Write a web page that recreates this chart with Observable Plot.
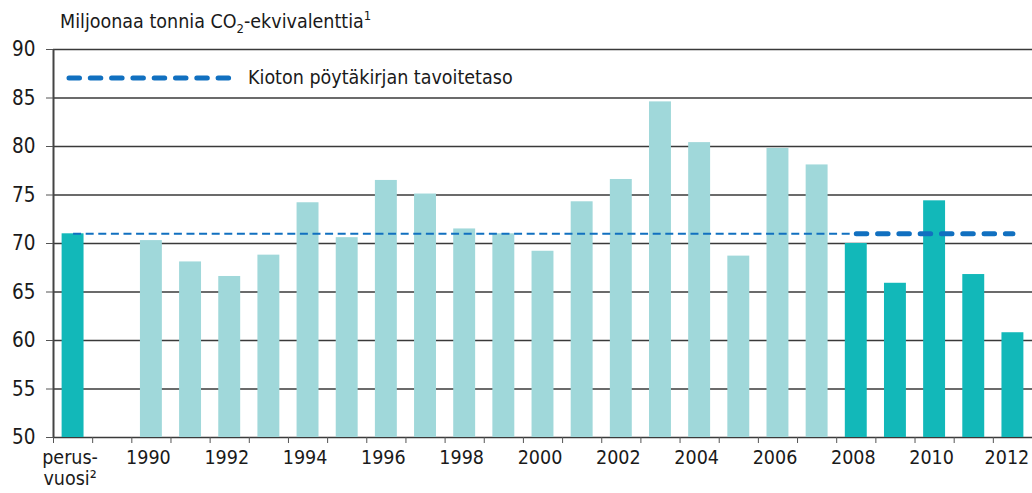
<!DOCTYPE html>
<html>
<head>
<meta charset="utf-8">
<script src="https://cdn.jsdelivr.net/npm/d3@7"></script>
<script src="https://cdn.jsdelivr.net/npm/@observablehq/plot@0.6"></script>
<style>
  html, body { margin: 0; padding: 0; background: #fff; }
  #wrap { position: relative; width: 1032px; height: 493px; overflow: hidden;
          font-family: "Liberation Sans Narrow", "DejaVu Sans Condensed", "Open Sans", sans-serif; color: #1a1a1a; }
  #title { position: absolute; left: 60px; top: 9px; font-size: 19.5px; line-height: 26px; white-space: nowrap; }
  #title sub { font-size: 13px; vertical-align: -5px; line-height: 0; }
  #title sup { font-size: 13px; vertical-align: 8px; line-height: 0; }
  #chart { position: absolute; left: 0; top: 40px; }
  #legend { position: absolute; left: 66px; top: 66px; display: flex; align-items: center; font-size: 19.5px; white-space: nowrap; }
  #legend svg { margin-right: 16px; }
</style>
</head>
<body>
<div id="wrap">
  <div id="title">Miljoonaa tonnia CO<sub>2</sub>-ekvivalenttia<sup>1</sup></div>
  <div id="chart"></div>
  <div id="legend">
    <svg width="166" height="10"><line x1="3" x2="163" y1="5" y2="5" stroke="#1170c0" stroke-width="5" stroke-linecap="round" stroke-dasharray="10.5,10.8"/></svg>
    <span>Kioton pöytäkirjan tavoitetaso</span>
  </div>
</div>
<script>
const categories = ["perusvuosi", "gap", "1990", "1991", "1992", "1993", "1994", "1995", "1996", "1997", "1998", "1999", "2000", "2001", "2002", "2003", "2004", "2005", "2006", "2007", "2008", "2009", "2010", "2011", "2012"];
const emissions = [71.0, null, 70.3, 68.1, 66.6, 68.8, 74.2, 70.6, 76.5, 75.1, 71.5, 71.0, 69.2, 74.3, 76.6, 84.6, 80.4, 68.7, 79.8, 78.1, 70.0, 65.9, 74.4, 66.8, 60.8];
const kyotoTarget = 71.0;
const yTicks = [50, 55, 60, 65, 70, 75, 80, 85, 90];
const xLabelCats = ["perusvuosi", "1990", "1992", "1994", "1996", "1998", "2000", "2002", "2004", "2006", "2008", "2010"];
const xLabelLast = ["2012"];

const data = categories.map((c, i) => ({cat: c, value: emissions[i]})).filter(d => d.value != null);
const isDark = d => d.cat === "perusvuosi" || +d.cat >= 2008;

const W = 1032, H = 453, ML = 53, MR = 0, MT = 9, MB = 56;
const step = (W - ML - MR) / categories.length;
const FONT = '"Liberation Sans Narrow", "DejaVu Sans Condensed", "Open Sans", sans-serif';
const FS = 19.5;
const labelFormat = d => d === "perusvuosi" ? "perus-\nvuosi²" : d + "\n ";

const chart = Plot.plot({
  width: W, height: H,
  marginTop: MT, marginLeft: ML, marginRight: MR, marginBottom: MB,
  style: {fontFamily: FONT, fontSize: FS + "px", color: "#1a1a1a", background: "white", overflow: "visible"},
  x: {domain: categories, paddingInner: 0.44, paddingOuter: 0.22, round: false, label: null, axis: null},
  y: {domain: [50, 90], label: null, axis: null},
  marks: [
    Plot.ruleY(yTicks, {stroke: "#3a3a3a", strokeWidth: 1.4}),
    Plot.barY(data, {x: "cat", y1: 50, y2: "value", fill: d => isDark(d) ? "#12b8b9" : "#a0d8da"}),
    Plot.link([{from: "perusvuosi", to: "2008", v: kyotoTarget}], {x1: "from", x2: "to", y1: "v", y2: "v", stroke: "#1170c0", strokeWidth: 2, strokeDasharray: "8,4.6"}),
    Plot.link([{from: "2008", to: "2012", v: kyotoTarget}], {x1: "from", x2: "to", y1: "v", y2: "v", stroke: "#1170c0", strokeWidth: 5, strokeLinecap: "round", strokeDasharray: "10.5,10.8"}),
    Plot.ruleX(["perusvuosi"], {y1: 50, y2: 90, dx: -step / 2, stroke: "#444", strokeWidth: 2}),
    Plot.axisY(yTicks, {tickSize: 7, tickPadding: 11, stroke: "#555", fontSize: FS + 1}),
    Plot.axisX(categories, {tickSize: 6, tickPadding: 0, tickFormat: () => "", dx: -step / 2, stroke: "#555"}),
    Plot.axisX(xLabelCats, {tickSize: 0, tickPadding: 11, fontSize: FS, lineHeight: 1.1, dx: -3, tickFormat: labelFormat}),
    Plot.axisX(xLabelLast, {tickSize: 0, tickPadding: 11, fontSize: FS, lineHeight: 1.1, dx: -6, tickFormat: labelFormat})
  ]
});
document.getElementById("chart").appendChild(chart);
</script>
</body>
</html>
